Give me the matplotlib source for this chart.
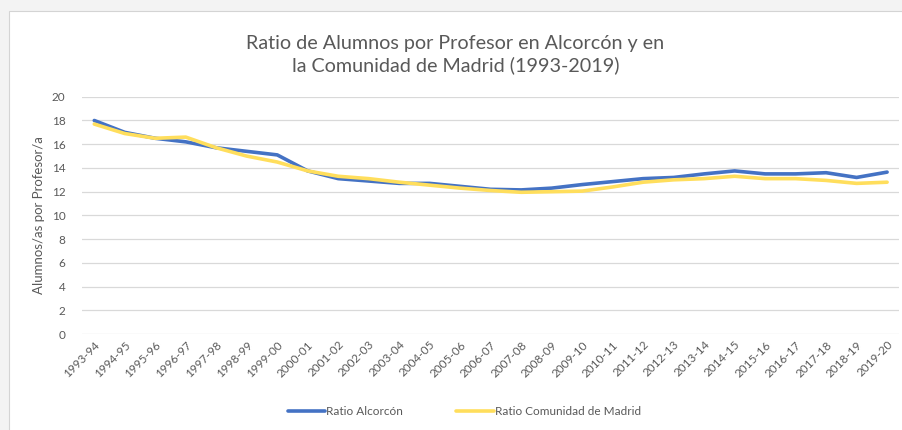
import matplotlib.pyplot as plt
from matplotlib.patches import Rectangle

plt.rcParams['font.family'] = ['Lato', 'DejaVu Sans']

# DATA
cursos = ["1993-94", "1994-95", "1995-96", "1996-97", "1997-98", "1998-99",
          "1999-00", "2000-01", "2001-02", "2002-03", "2003-04", "2004-05",
          "2005-06", "2006-07", "2007-08", "2008-09", "2009-10", "2010-11",
          "2011-12", "2012-13", "2013-14", "2014-15", "2015-16", "2016-17",
          "2017-18", "2018-19", "2019-20"]
ratio_alcorcon = [18.0, 17.0, 16.5, 16.2, 15.7, 15.4, 15.1, 13.75, 13.1, 12.9,
                  12.7, 12.7, 12.45, 12.2, 12.15, 12.3, 12.6, 12.85, 13.1, 13.2,
                  13.5, 13.75, 13.5, 13.5, 13.6, 13.2, 13.65]
ratio_madrid = [17.7, 16.9, 16.5, 16.6, 15.7, 15.0, 14.5, 13.75, 13.3, 13.1,
                12.8, 12.55, 12.3, 12.1, 11.95, 12.0, 12.05, 12.4, 12.8, 13.0,
                13.1, 13.3, 13.1, 13.1, 12.95, 12.7, 12.8]

blue = "#4472C4"
yellow = "#FFDE5C"
gray_text = "#595959"

fig = plt.figure(figsize=(9.02, 4.30), dpi=100, facecolor="#F3F3F3")

# white chart box with a thin border, gray margin showing at top and left
box = Rectangle((0.010, -0.01), 1.0, 0.985, transform=fig.transFigure,
                facecolor="white", edgecolor="#D4D4D4", linewidth=0.8, zorder=-10)
fig.patches.append(box)

ax = fig.add_axes([0.091, 0.223, 0.906, 0.552])
ax.patch.set_alpha(0)

x = range(len(cursos))
ax.plot(x, ratio_alcorcon, color=blue, linewidth=2.6, label="Ratio Alcorcón", solid_capstyle="round")
ax.plot(x, ratio_madrid, color=yellow, linewidth=2.6, label="Ratio Comunidad de Madrid", solid_capstyle="round")

ax.set_ylim(0, 20)
ax.set_yticks(range(0, 21, 2))
ax.set_xlim(-0.4, len(cursos) - 0.6)
ax.set_xticks(list(x))
ax.set_xticklabels(cursos, rotation=45, ha="right", rotation_mode="anchor")
ax.tick_params(axis="both", length=0, labelsize=8.5, colors=gray_text)
ax.tick_params(axis="y", pad=12)
ax.grid(axis="y", color="#D9D9D9", linewidth=0.9)
ax.set_axisbelow(True)
for s in ax.spines.values():
    s.set_visible(False)

ax.set_ylabel("Alumnos/as por Profesor/a", fontsize=9.5, color=gray_text, labelpad=5)

fig.text(0.505, 0.873, "Ratio de Alumnos por Profesor en Alcorcón y en\nla Comunidad de Madrid (1993-2019)",
         ha="center", va="center", fontsize=14.2, color=gray_text, linespacing=1.3)

fig.legend(loc="center", bbox_to_anchor=(0.515, 0.042), ncol=2, frameon=False,
           fontsize=8.5, labelcolor=gray_text, handlelength=3.2, handletextpad=0.1,
           columnspacing=4.5)

fig.savefig("out.png", dpi=100, facecolor=fig.get_facecolor())
